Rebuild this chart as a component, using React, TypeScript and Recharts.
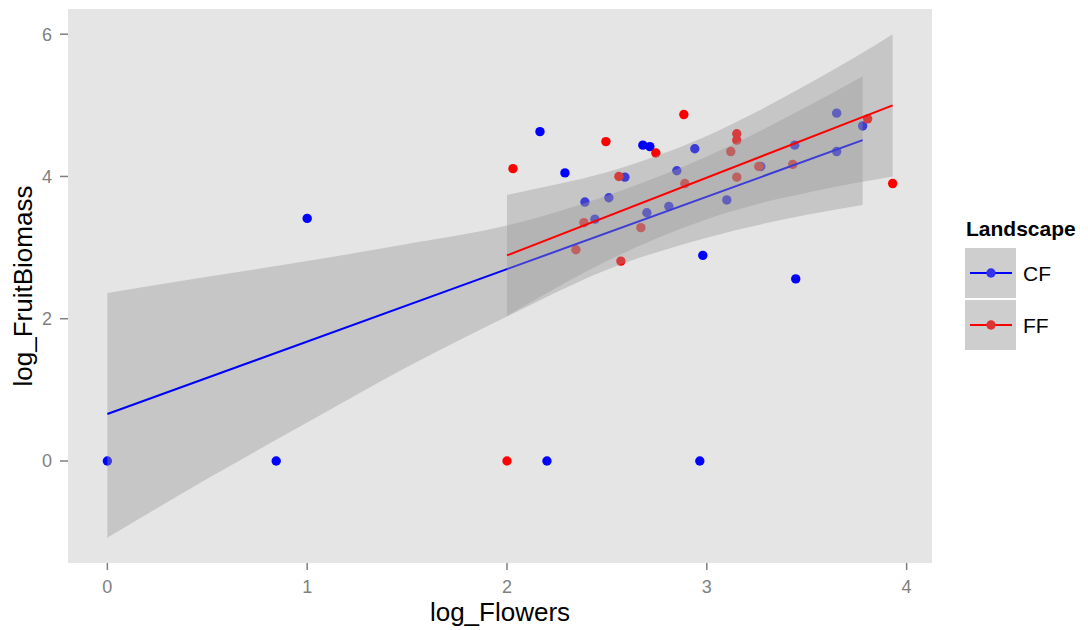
import React from 'react';
import {
  ComposedChart,
  Scatter,
  Area,
  Line,
  XAxis,
  YAxis,
} from 'recharts';

// raw points
const cfFlowers = [0, 0.845, 1.0, 2.2, 2.165, 2.29, 2.39, 2.44, 2.51, 2.59, 2.68, 2.715, 2.7, 2.81, 2.85, 2.94, 2.965, 2.98, 3.1, 3.27, 3.44, 3.445, 3.65, 3.65, 3.78];
const cfBiomass = [0, 0, 3.41, 0, 4.63, 4.05, 3.64, 3.4, 3.7, 3.99, 4.44, 4.42, 3.49, 3.58, 4.08, 4.39, 0, 2.89, 3.67, 4.14, 4.44, 2.56, 4.89, 4.35, 4.71];
const ffFlowers = [2.0, 2.03, 2.345, 2.385, 2.495, 2.56, 2.57, 2.67, 2.745, 2.885, 2.89, 3.12, 3.15, 3.15, 3.15, 3.26, 3.43, 3.805, 3.93];
const ffBiomass = [0, 4.11, 2.97, 3.35, 4.49, 4.0, 2.81, 3.28, 4.33, 4.87, 3.9, 4.35, 4.6, 4.51, 3.99, 4.14, 4.17, 4.81, 3.9];

// fitted lines
const cfFitX = [0, 3.78];
const cfFitY = [0.66, 4.51];
const ffFitX = [2.0, 3.93];
const ffFitY = [2.89, 5.0];

// confidence ribbons
const cfBandX = [0, 0.5, 1, 1.5, 2, 2.5, 3, 3.5, 3.78];
const cfBandLo = [-1.08, -0.25, 0.54, 1.32, 2.03, 2.69, 3.14, 3.46, 3.6];
const cfBandHi = [2.36, 2.59, 2.81, 3.05, 3.31, 3.73, 4.28, 4.98, 5.41];
const ffBandX = [2, 2.25, 2.5, 2.75, 3, 3.25, 3.5, 3.75, 3.93];
const ffBandLo = [2.04, 2.44, 2.81, 3.13, 3.4, 3.61, 3.77, 3.91, 4.0];
const ffBandHi = [3.74, 3.89, 4.06, 4.29, 4.57, 4.91, 5.29, 5.69, 6.0];

const xTicks = [0, 1, 2, 3, 4];
const yTicks = [0, 2, 4, 6];

const FONT = '"Liberation Sans", Arial, Helvetica, sans-serif';
const BLUE = '#0000FF';
const RED = '#FF0000';
const RIBBON = '#999999';

const pts = (xs: number[], ys: number[]) => xs.map((x, i) => ({ x, y: ys[i] }));
const band = (xs: number[], lo: number[], hi: number[]) =>
  xs.map((x, i) => ({ x, lo: lo[i], hi: hi[i] }));

const cfPoints = pts(cfFlowers, cfBiomass);
const ffPoints = pts(ffFlowers, ffBiomass);
const cfFit = pts(cfFitX, cfFitY);
const ffFit = pts(ffFitX, ffFitY);
const cfBand = band(cfBandX, cfBandLo, cfBandHi);
const ffBand = band(ffBandX, ffBandLo, ffBandHi);

const Dot = (color: string) => (props: any) => {
  const { cx, cy } = props;
  if (cx == null || cy == null) return <g />;
  return <circle cx={cx} cy={cy} r={4.7} fill={color} />;
};

const Key = ({ y, color, dot, label }: { y: number; color: string; dot: string; label: string }) => (
  <g>
    <rect x={957} y={y - 25} width={51} height={50} fill="#CECECE" />
    <line x1={962} x2={1004} y1={y} y2={y} stroke={color} strokeWidth={2} />
    <circle cx={983} cy={y} r={4.7} fill={dot} />
    <text x={1015} y={y + 8} fontSize={21} fill="#000">{label}</text>
  </g>
);

export default function App() {
  return (
    <div style={{ position: 'relative', width: 1080, height: 622, fontFamily: FONT }}>
      <ComposedChart
        width={1080}
        height={622}
        margin={{ top: 1, right: 156, left: 0, bottom: 0 }}
        style={{ fontFamily: FONT }}
      >
        <rect x={60} y={1} width={864} height={554} fill="#E5E5E5" />
        <XAxis
          type="number"
          dataKey="x"
          domain={[-0.197, 4.127]}
          ticks={xTicks}
          allowDataOverflow
          height={67}
          axisLine={false}
          tickSize={7}
          tickMargin={10}
          tickLine={{ stroke: '#7F7F7F', strokeWidth: 1.5 }}
          tick={{ fill: '#7F7F7F', fontSize: 18 }}
          label={{ value: 'log_Flowers', position: 'insideBottom', offset: 9, fill: '#000', fontSize: 26 }}
        />
        <YAxis
          type="number"
          dataKey="y"
          domain={[-1.434, 6.354]}
          ticks={yTicks}
          allowDataOverflow
          width={60}
          axisLine={false}
          tickSize={8}
          tickMargin={8}
          tickLine={{ stroke: '#7F7F7F', strokeWidth: 1.5 }}
          tick={{ fill: '#7F7F7F', fontSize: 18 }}
          label={{
            value: 'log_FruitBiomass',
            angle: -90,
            position: 'insideLeft',
            offset: 15,
            textAnchor: 'middle',
            fill: '#000',
            fontSize: 26,
          }}
        />
        <Scatter data={cfPoints} fill={BLUE} shape={Dot(BLUE)} isAnimationActive={false} zIndex={100} />
        <Scatter data={ffPoints} fill={RED} shape={Dot(RED)} isAnimationActive={false} zIndex={110} />
        <Area
          data={cfBand}
          dataKey={(d: any) => [d.lo, d.hi]}
          type="monotone"
          stroke="none"
          fill={RIBBON}
          fillOpacity={0.4}
          isAnimationActive={false}
          zIndex={200}
        />
        <Line
          data={cfFit}
          dataKey="y"
          type="linear"
          stroke={BLUE}
          strokeWidth={2}
          dot={false}
          isAnimationActive={false}
          zIndex={300}
        />
        <Area
          data={ffBand}
          dataKey={(d: any) => [d.lo, d.hi]}
          type="monotone"
          stroke="none"
          fill={RIBBON}
          fillOpacity={0.4}
          isAnimationActive={false}
          zIndex={400}
        />
        <Line
          data={ffFit}
          dataKey="y"
          type="linear"
          stroke={RED}
          strokeWidth={2}
          dot={false}
          isAnimationActive={false}
          zIndex={500}
        />
      </ComposedChart>
      <svg
        width={1080}
        height={622}
        style={{ position: 'absolute', left: 0, top: 0, pointerEvents: 'none', fontFamily: FONT }}
      >
        <text x={958} y={228} fontSize={21} fontWeight="bold" fill="#000">Landscape</text>
        <Key y={265} color={BLUE} dot="#3333EE" label="CF" />
        <Key y={317} color={RED} dot="#DD3333" label="FF" />
      </svg>
    </div>
  );
}
